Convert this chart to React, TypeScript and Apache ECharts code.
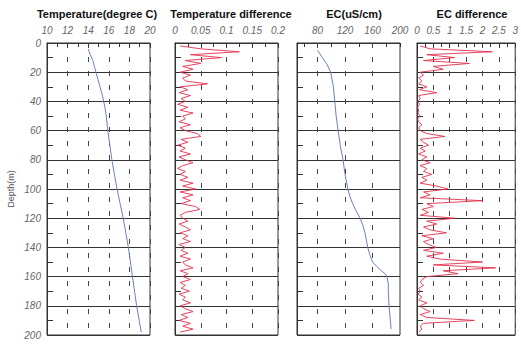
import { useEffect, useRef } from "react";
import * as echarts from "echarts";

// ---------- data ----------
const titles = ["Temperature(degree C)", "Temperature difference", "EC(uS/cm)", "EC difference"];

// Temperature profile (degree C) vs depth (m)
const tempDepth = [4, 8, 12, 16, 20, 25, 30, 35, 40, 45, 50, 60, 70, 80, 90, 100, 110, 120, 130, 140, 150, 160, 170, 180, 190, 198];
const tempValues = [14.0, 14.2, 14.45, 14.6, 14.75, 14.95, 15.15, 15.35, 15.5, 15.65, 15.75, 15.9, 16.1, 16.3, 16.55, 16.8, 17.1, 17.4, 17.65, 17.9, 18.1, 18.3, 18.5, 18.7, 18.95, 19.15];

// EC profile (uS/cm) vs depth (m)
const ecDepth = [5, 10, 15, 20, 25, 30, 40, 50, 60, 70, 80, 90, 100, 105, 110, 115, 120, 125, 130, 140, 145, 150, 153, 156, 158, 160, 165, 170, 180, 190, 196];
const ecValues = [80, 87, 94, 99, 101, 103, 105, 107, 110, 113, 117, 120, 124, 127, 131, 136, 142, 146, 149, 153, 156, 160, 166, 173, 178, 181, 183, 183, 184, 186, 187];

// Difference series depths (m)
const diffDepth = [
  2, 4, 6, 8, 10, 12, 14, 16, 18, 20,
  22, 24, 26, 28, 30, 32, 34, 36, 38, 40,
  42, 44, 46, 48, 50, 52, 54, 56, 58, 60,
  62, 64, 66, 68, 70, 72, 74, 76, 78, 80,
  82, 84, 86, 88, 90, 92, 94, 96, 98, 100,
  102, 104, 106, 108, 110, 112, 114, 116, 118, 120,
  122, 124, 126, 128, 130, 132, 134, 136, 138, 140,
  142, 144, 146, 148, 150, 152, 154, 156, 158, 160,
  162, 164, 166, 168, 170, 172, 174, 176, 178, 180,
  182, 184, 186, 188, 190, 192, 194, 196, 198,
];

const tempDiff = [
  0.01, 0.05, 0.125, 0.03, 0.09, 0.02, 0.05, 0.015, 0.035, 0.01,
  0.03, 0.015, 0.02, 0.063, 0.01, 0.025, 0.008, 0.03, 0.012, 0.02,
  0.005, 0.025, 0.01, 0.035, 0.015, 0.02, 0.008, 0.03, 0.01, 0.02,
  0.043, 0.05, 0.012, 0.025, 0.005, 0.02, 0.01, 0.03, 0.008, 0.02,
  0.035, 0.015, 0.005, 0.02, 0.01, 0.025, 0.01, 0.035, 0.015, 0.04,
  0.01, 0.035, 0.015, 0.03, 0.012, 0.04, 0.048, 0.02, 0.01, 0.015,
  0.025, 0.008, 0.02, 0.03, 0.01, 0.025, 0.015, 0.03, 0.008, 0.02,
  0.012, 0.025, 0.01, 0.03, 0.015, 0.02, 0.035, 0.01, 0.025, 0.015,
  0.03, 0.01, 0.02, 0.012, 0.028, 0.008, 0.02, 0.015, 0.03, 0.01,
  0.02, 0.035, 0.012, 0.025, 0.008, 0.03, 0.015, 0.035, 0.01,
];

const ecDiff = [
  0.1, 0.4, 2.3, 0.3, 1.15, 0.2, 1.6, 0.5, 0.8, 0.1,
  0.2, 0.05, 0.15, 0.05, 0.3, 0.08, 0.6, 0.05, 0.1, 0.03,
  0.08, 0.02, 0.05, 0.03, 0.1, 0.02, 0.05, 0.15, 0.05, 0.1,
  0.3, 0.85, 0.1, 0.2, 0.35, 0.1, 0.25, 0.05, 0.3, 0.15,
  0.4, 0.1, 0.3, 0.2, 0.45, 0.15, 0.3, 0.1, 0.6, 0.95,
  0.2, 0.4, 0.1, 2.0, 0.3, 0.5, 0.15, 0.35, 0.1, 1.15,
  0.3, 0.6, 0.2, 0.4, 0.9, 0.15, 0.5, 0.2, 0.35, 0.6,
  0.2, 0.8, 0.3, 0.7, 2.0, 0.5, 2.4, 0.8, 1.25, 0.3,
  0.15, 0.1, 0.2, 0.05, 0.1, 0.03, 0.15, 0.05, 0.3, 0.1,
  0.2, 0.4, 0.1, 0.3, 1.75, 0.2, 0.1, 0.15, 0.05,
];

// EC axis tick labels and minor tick positions
const ecLabelValues = [80, 120, 160, 200];
const ecTickValues = [60, 80, 100, 120, 140, 160, 180, 200];

// ---------- styling ----------
const AX = "#333";
const LABEL = "#666";
const FONT = "Liberation Sans";
const BLUE = "#6b82b8";
const RED = "#e2304c";

const gridLefts = [47, 175, 297, 417];
const titleX = [97, 231, 354, 472];

function xAxisBase(gridIndex: number, min: number, max: number, interval: number) {
  return {
    type: "value",
    gridIndex,
    position: "top",
    min,
    max,
    interval,
    axisLine: { show: true, lineStyle: { color: AX, width: 1 } },
    axisTick: { show: true, inside: true, length: 4, lineStyle: { color: AX } },
    minorTick: { show: true, splitNumber: 2, length: 4, lineStyle: { color: AX } },
    axisLabel: { color: LABEL, fontSize: 10, fontStyle: "italic", fontFamily: FONT, margin: 8 },
    splitLine: { show: true, lineStyle: { color: "#444", width: 1, type: [5, 9] } },
  } as any;
}

function yAxisBase(gridIndex: number) {
  return {
    type: "value",
    gridIndex,
    inverse: true,
    min: 0,
    max: 200,
    interval: 20,
    axisLine: { show: true, lineStyle: { color: AX, width: 1 } },
    axisTick: { show: true, inside: true, length: 5, lineStyle: { color: AX } },
    minorTick: { show: true, splitNumber: 2, length: 6, lineStyle: { color: AX } },
    axisLabel: {
      show: gridIndex === 0,
      color: LABEL,
      fontSize: 10,
      fontStyle: "italic",
      fontFamily: FONT,
      margin: 6,
    },
    splitLine: { show: true, lineStyle: { color: AX, width: 1 } },
    name: gridIndex === 0 ? "Depth(m)" : "",
    nameLocation: "middle",
    nameGap: 32,
    nameRotate: 90,
    nameTextStyle: { fontSize: 9, color: "#555", fontFamily: FONT },
  } as any;
}

export default function App() {
  const ref = useRef<HTMLDivElement>(null);

  useEffect(() => {
    if (!ref.current) return;
    const chart = echarts.init(ref.current, null, { renderer: "svg" });

    const grids = gridLefts.map((left) => ({
      left,
      top: 43,
      width: 103,
      height: 292,
      show: true,
      borderColor: AX,
      borderWidth: 1,
      backgroundColor: "transparent",
    }));

    const ecAxis = xAxisBase(2, 50, 200, 10);
    ecAxis.axisLabel = { ...ecAxis.axisLabel, customValues: ecLabelValues };
    ecAxis.axisTick = { ...ecAxis.axisTick, customValues: ecTickValues };
    ecAxis.minorTick = { show: false };
    ecAxis.splitLine = { show: false };

    const xAxes = [
      xAxisBase(0, 10, 20, 2),
      xAxisBase(1, 0, 0.2, 0.05),
      ecAxis,
      xAxisBase(3, 0, 3, 0.5),
    ];

    const option: any = {
      animation: false,
      backgroundColor: "#fff",
      grid: grids,
      xAxis: xAxes,
      yAxis: [0, 1, 2, 3].map((i) => yAxisBase(i)),
      graphic: titles.map((t, i) => ({
        type: "text",
        x: titleX[i],
        y: 14,
        style: {
          text: t,
          fontSize: 11,
          fontWeight: "bold",
          fontFamily: FONT,
          fill: "#111",
          align: "center",
          verticalAlign: "middle",
        },
      })),
      series: [
        {
          type: "line",
          xAxisIndex: 0,
          yAxisIndex: 0,
          showSymbol: false,
          data: tempValues.map((v, i) => [v, tempDepth[i]]),
          lineStyle: { color: BLUE, width: 1 },
          itemStyle: { color: BLUE },
        },
        {
          type: "line",
          xAxisIndex: 1,
          yAxisIndex: 1,
          showSymbol: false,
          data: tempDiff.map((v, i) => [v, diffDepth[i]]),
          lineStyle: { color: RED, width: 0.9 },
          itemStyle: { color: RED },
        },
        {
          type: "line",
          xAxisIndex: 2,
          yAxisIndex: 2,
          showSymbol: false,
          data: ecValues.map((v, i) => [v, ecDepth[i]]),
          lineStyle: { color: BLUE, width: 1 },
          itemStyle: { color: BLUE },
          markLine: {
            silent: true,
            symbol: ["none", "none"],
            label: { show: false },
            lineStyle: { color: "#444", width: 1, type: [5, 9] },
            data: ecLabelValues.filter((v) => v < 200).map((v) => ({ xAxis: v })),
          },
        },
        {
          type: "line",
          xAxisIndex: 3,
          yAxisIndex: 3,
          showSymbol: false,
          data: ecDiff.map((v, i) => [v, diffDepth[i]]),
          lineStyle: { color: RED, width: 0.9 },
          itemStyle: { color: RED },
        },
      ],
    };

    chart.setOption(option);
    return () => chart.dispose();
  }, []);

  return (
    <div
      ref={ref}
      style={{ position: "fixed", left: 0, top: 0, width: 521, height: 345, background: "#fff" }}
    />
  );
}
